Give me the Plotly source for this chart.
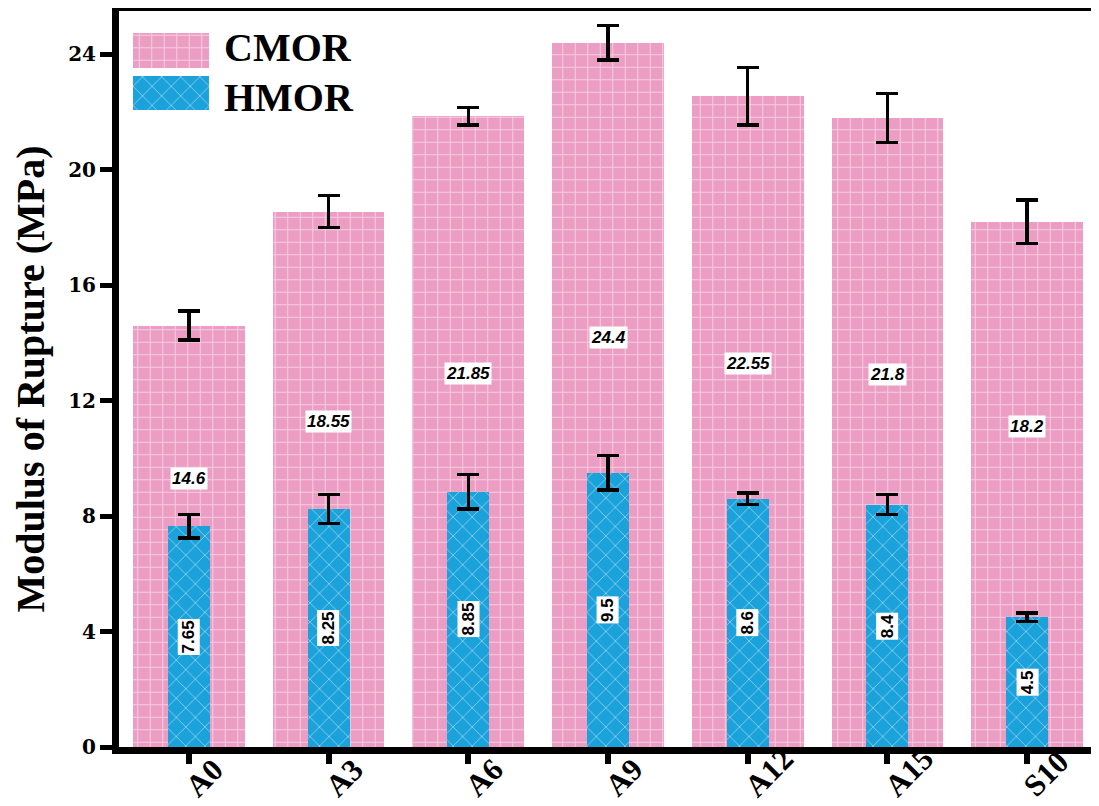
import plotly.graph_objects as go

categories = ["A0", "A3", "A6", "A9", "A12", "A15", "S10"]
cmor = [14.6, 18.55, 21.85, 24.4, 22.55, 21.8, 18.2]
cmor_err = [0.5, 0.55, 0.3, 0.6, 1.0, 0.85, 0.75]
hmor = [7.65, 8.25, 8.85, 9.5, 8.6, 8.4, 4.5]
hmor_err = [0.4, 0.5, 0.6, 0.6, 0.2, 0.35, 0.15]
yticks = [0, 4, 8, 12, 16, 20, 24]
legend_names = ["CMOR", "HMOR"]

PINK = "#EC9DC4"
BLUE = "#1CA2DB"

# page body has an 8px margin: figure is sized so that the visible window matches
W, H = 1091, 798
ML, MR, MT, MB = 111, 2, 3, 59
PH = H - MT - MB

fig = go.Figure()

fig.add_trace(go.Bar(
    x=categories, y=cmor, width=0.8, name="CMOR", showlegend=False,
    marker=dict(color=PINK, line=dict(width=0),
                pattern=dict(shape="+", fgcolor="white", bgcolor=PINK, size=12.5, solidity=0.16)),
    error_y=dict(type="data", array=cmor_err, color="black", thickness=3.5, width=11),
))
fig.add_trace(go.Bar(
    x=categories, y=hmor, width=0.3, name="HMOR", showlegend=False,
    marker=dict(color=BLUE, line=dict(width=0),
                pattern=dict(shape="x", fgcolor="white", bgcolor=BLUE, size=13.5, solidity=0.12)),
    error_y=dict(type="data", array=hmor_err, color="black", thickness=3.5, width=11),
))

# legend swatches drawn as a tiny subplot
fig.add_trace(go.Bar(
    y=[legend_names[0]], x=[1], orientation="h", width=0.8, xaxis="x2", yaxis="y2", showlegend=False,
    marker=dict(color=PINK, line=dict(width=0),
                pattern=dict(shape="+", fgcolor="white", bgcolor=PINK, size=12.5, solidity=0.16)),
    hoverinfo="skip",
))
fig.add_trace(go.Bar(
    y=[legend_names[1]], x=[1], orientation="h", width=0.8, xaxis="x2", yaxis="y2", showlegend=False,
    marker=dict(color=BLUE, line=dict(width=0),
                pattern=dict(shape="x", fgcolor="white", bgcolor=BLUE, size=13.5, solidity=0.12)),
    hoverinfo="skip",
))

annotations = []
for c, v in zip(categories, cmor):
    annotations.append(dict(
        x=c, y=v / 2 + 2, text=f"<b><i>{v:g}</i></b>", showarrow=False,
        font=dict(family="Liberation Sans", size=17, color="black"),
        bgcolor="white", borderpad=1,
    ))
for c, v in zip(categories, hmor):
    annotations.append(dict(
        x=c, y=v / 2, text=f"<b>{v:g}</b>", showarrow=False, textangle=-90,
        font=dict(family="Liberation Sans", size=17, color="black"),
        bgcolor="white", borderpad=1,
    ))
# rotated category labels (anchored at their lower-left end)
for c in categories:
    annotations.append(dict(
        x=c, xref="x", y=-(MB - 1) / PH, yref="paper", xanchor="left", yanchor="bottom",
        xshift=-13, yshift=-1, text=f"<b>{c}</b>", showarrow=False, textangle=-45,
        font=dict(family="Liberation Serif", size=31, color="black"),
    ))
for name, yy in zip(legend_names, [0.951, 0.882]):
    annotations.append(dict(
        xref="paper", yref="paper", x=0.105, y=yy, xanchor="left", yanchor="middle",
        text=f"<b>{name}</b>", showarrow=False,
        font=dict(family="Liberation Serif", size=40, color="black"),
    ))

fig.update_layout(
    width=W, height=H,
    margin=dict(l=ML, r=MR, t=MT, b=MB),
    paper_bgcolor="white", plot_bgcolor="white",
    barmode="overlay", bargap=0,
    annotations=annotations,
    xaxis=dict(
        range=[-0.5, 6.5], showline=True, linecolor="black", linewidth=7, mirror=True,
        ticks="outside", ticklen=10, tickwidth=6, tickcolor="black",
        showticklabels=False,
        showgrid=False, zeroline=False, automargin=False,
    ),
    yaxis=dict(
        range=[0, 25.5], tickvals=yticks, showline=True, linecolor="black", linewidth=7,
        ticks="outside", ticklen=12, tickwidth=5, tickcolor="black",
        tickfont=dict(family="DejaVu Serif", size=20, color="black", weight="bold"),
        title=dict(text="<b>Modulus of Rupture (MPa)</b>", standoff=22,
                   font=dict(family="Liberation Serif", size=40, color="black")),
        showgrid=False, zeroline=False, automargin=False,
    ),
    xaxis2=dict(domain=[0.0143, 0.092], range=[0, 1], visible=False, anchor="y2", fixedrange=True),
    yaxis2=dict(domain=[0.859, 0.9755], visible=False, anchor="x2",
                categoryorder="array", categoryarray=legend_names[::-1], fixedrange=True),
    shapes=[dict(type="line", xref="paper", yref="paper", x0=1, x1=1, y0=0, y1=1,
                 line=dict(color="#888888", width=1.5))],
    font=dict(family="Liberation Serif"),
)

fig.write_html("out.html")
